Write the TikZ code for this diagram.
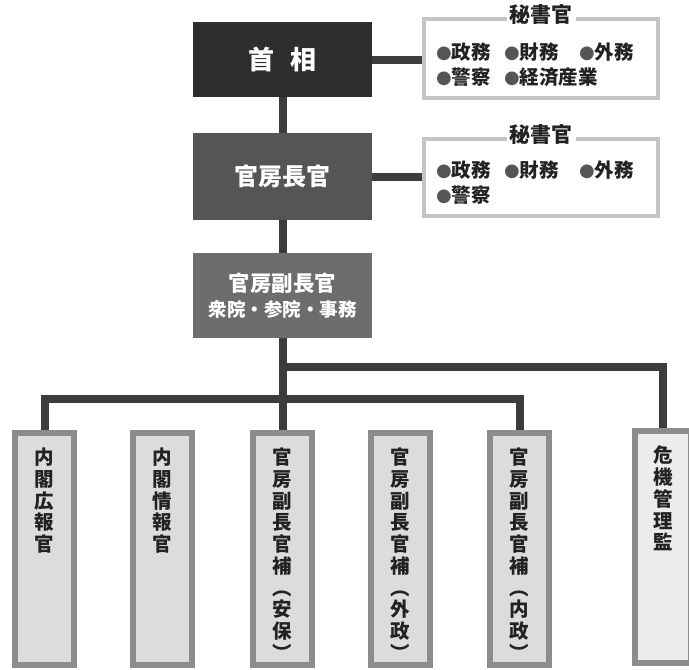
\documentclass[tikz,border=0pt]{standalone}
\usepackage{fontspec}
\setmainfont{Noto Sans CJK JP}
\newfontfamily\jp{Noto Sans CJK JP}
\newfontfamily\dv{DejaVu Sans}
\definecolor{linec}{HTML}{3C3C3C}
\definecolor{secline}{HTML}{C4C4C4}
\definecolor{colline}{HTML}{8C8C8C}
\definecolor{colfill}{HTML}{DCDCDC}
\definecolor{colfillb}{HTML}{ECECEC}
\definecolor{pmfill}{HTML}{2E2E2E}
\definecolor{csfill}{HTML}{555555}
\definecolor{depfill}{HTML}{6D6D6D}
\definecolor{textc}{HTML}{222222}
\definecolor{bulc}{HTML}{555555}
\newcommand{\blt}{{\color{bulc}\dv\fontsize{18}{18}\selectfont\raisebox{0.5pt}{●}}}
\begin{document}
\begin{tikzpicture}[x=1pt,y=-1pt,
  conn/.style={draw=linec, line width=8pt},
  topbox/.style={minimum width=179pt, inner sep=0pt, text=white, font=\jp\bfseries},
  secbox/.style={draw=secline, line width=4pt, fill=white, minimum width=234pt, inner sep=0pt},
  sectitle/.style={fill=white, inner sep=3pt, font=\jp\bfseries\fontsize{21}{22}\selectfont, text=textc},
  item/.style={anchor=west, inner sep=0pt, font=\jp\bfseries\fontsize{19.5}{21}\selectfont, text=textc},
  colbox/.style={draw=colline, line width=6pt, fill=colfill, minimum width=59pt, minimum height=232pt, inner sep=0pt},
  coltext/.style={anchor=north, align=center, inner sep=0pt, font=\jp\bfseries\fontsize{19.5}{21.7}\selectfont, text=textc}
]
\useasboundingbox (0,0) rectangle (689,670);
\fill[white] (0,0) rectangle (689,670);
\clip (0,0) rectangle (689,670);

% top boxes
\node[topbox, fill=pmfill, minimum height=75pt, font=\jp\bfseries\fontsize{26}{26}\selectfont] (pm) at (282.5,59.5) {首\hspace{16pt}相};
\node[topbox, fill=csfill, minimum height=87pt, font=\jp\bfseries\fontsize{24}{24}\selectfont] (cs) at (282.5,176.5) {官房長官};
\node[topbox, fill=depfill, minimum height=85pt, align=center, font=\jp\bfseries\fontsize{18.5}{25}\selectfont] (dep) at (282.5,295.5) {{\fontsize{21.5}{25}\selectfont 官房副長官}\\衆院・参院・事務};

% secretary boxes
\node[secbox, minimum height=79pt] (sec1) at (541,58.5) {};
\node[sectitle] (st1) at (541,15) {秘書官};
\node[item] (s1a) at (436,52) {\blt 政務};
\node[item] (s1b) at (504,52) {\blt 財務};
\node[item] (s1c) at (579,52) {\blt 外務};
\node[item] (s1d) at (436,77) {\blt 警察};
\node[item] (s1e) at (504,77) {\blt 経済産業};

\node[secbox, minimum height=77pt] (sec2) at (541,177.5) {};
\node[sectitle] (st2) at (541,135) {秘書官};
\node[item] (s2a) at (436,170) {\blt 政務};
\node[item] (s2b) at (504,170) {\blt 財務};
\node[item] (s2c) at (579,170) {\blt 外務};
\node[item] (s2d) at (436,195) {\blt 警察};

% column boxes
\node[colbox] (c1) at (44.5,549) {};
\node[colbox] (c2) at (162.5,549) {};
\node[colbox] (c3) at (282.5,549) {};
\node[colbox] (c4) at (400.5,549) {};
\node[colbox] (c5) at (519.5,549) {};
\node[colbox, fill=colfillb, minimum width=56pt] (c6) at (663,547) {};

\node[coltext] (t1) at (44.5,448) {内\\閣\\広\\報\\官};
\node[coltext] (t2) at (162.5,448) {内\\閣\\情\\報\\官};
\node[coltext] (t3) at (282.5,448) {官\\房\\副\\長\\官\\補\\︵\\安\\保\\︶};
\node[coltext] (t4) at (400.5,448) {官\\房\\副\\長\\官\\補\\︵\\外\\政\\︶};
\node[coltext] (t5) at (519.5,448) {官\\房\\副\\長\\官\\補\\︵\\内\\政\\︶};
\node[coltext] (t6) at (663,446) {危\\機\\管\\理\\監};

% connectors
\draw[conn] (pm.east) -- (pm.east -| sec1.west);
\draw[conn] (cs.east) -- (cs.east -| sec2.west);
\draw[conn] (pm.south) -- (cs.north);
\draw[conn] (cs.south) -- (dep.north);
\draw[conn] (dep.south) -- (c3.north);
\coordinate (j1) at (282.5,367);
\coordinate (j2) at (282.5,399);
\draw[conn] (j1) -| (c6.north);
\draw[conn] (c1.north) |- (j2) -| (c5.north);
\end{tikzpicture}
\end{document}
